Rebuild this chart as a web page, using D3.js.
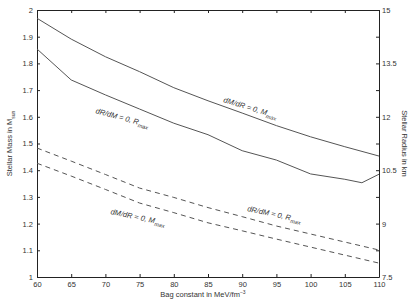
<!DOCTYPE html>
<html>
<head>
<meta charset="utf-8">
<script src="https://cdn.jsdelivr.net/npm/d3@7"></script>
<style>
  body { margin: 0; background: #fff; }
  text { font-family: "Liberation Sans", Arial, sans-serif; fill: #333; }
</style>
</head>
<body>
<svg id="chart" width="415" height="302"></svg>
<script>
// bag constant (MeV/fm^-3)
const bag = [60, 65, 70, 75, 80, 85, 90, 95, 100, 105, 110];
// solid: dM/dR = 0, M_max
const massMaxSolid = [1.969, 1.891, 1.825, 1.769, 1.709, 1.660, 1.614, 1.567, 1.525, 1.488, 1.453];
// solid: dR/dM = 0, R_max
const bagRmax = [60, 65, 70, 75, 80, 85, 90, 95, 100, 105, 107.5, 110];
const radMaxSolid = [1.854, 1.738, 1.682, 1.629, 1.576, 1.533, 1.473, 1.438, 1.386, 1.366, 1.353, 1.385];
// dashed: dR/dM = 0, R_max
const radMaxDashed = [1.483, 1.434, 1.384, 1.333, 1.298, 1.260, 1.226, 1.191, 1.161, 1.131, 1.101];
// dashed: dM/dR = 0, M_max
const massMaxDashed = [1.426, 1.378, 1.328, 1.277, 1.241, 1.203, 1.173, 1.142, 1.112, 1.082, 1.052];

const xTicks = [60, 65, 70, 75, 80, 85, 90, 95, 100, 105, 110];
const yTicks = [1, 1.1, 1.2, 1.3, 1.4, 1.5, 1.6, 1.7, 1.8, 1.9, 2];
const y2Ticks = [7.5, 8.25, 9, 9.75, 10.5, 11.25, 12, 12.75, 13.5, 14.25, 15];
const y2Labels = [7.5, 9, 10.5, 12, 13.5, 15];

// curve labels: [bag, mass, angle, main, sub]
const labels = [
  [87.2, 1.655, 17, "dM/dR = 0, M", "max"],
  [68.5, 1.614, 15, "dR/dM = 0, R", "max"],
  [70.7, 1.236, 12, "dM/dR = 0, M", "max"],
  [90.7, 1.247, 12, "dR/dM = 0, R", "max"]
];

const svg = d3.select("#chart");
const margin = { left: 37, right: 36, top: 10, bottom: 25 };
const W = 415, H = 302;
const fs = 7.5;

const x = d3.scaleLinear().domain([60, 110]).range([margin.left, W - margin.right]);
const y = d3.scaleLinear().domain([1, 2]).range([H - margin.bottom, margin.top]);
const y2 = d3.scaleLinear().domain([7.5, 15]).range([H - margin.bottom, margin.top]);

const fmt = (d) => d3.format("")(d);

// axes, ticks pointing inward
function styleAxis(g) {
  g.select(".domain").attr("stroke", "#222");
  g.selectAll(".tick line").attr("stroke", "#222");
  g.selectAll(".tick text").attr("font-size", fs).attr("fill", "#333")
    .attr("font-family", "Liberation Sans, Arial, sans-serif");
}

svg.append("g")
  .attr("transform", `translate(0,${y.range()[0]})`)
  .call(d3.axisBottom(x).tickValues(xTicks).tickSizeInner(-3).tickSizeOuter(0).tickPadding(5).tickFormat(fmt))
  .call(styleAxis);

svg.append("g")
  .attr("transform", `translate(0,${y.range()[1]})`)
  .call(d3.axisTop(x).tickValues(xTicks).tickSizeInner(-3).tickSizeOuter(0).tickFormat(""))
  .call(styleAxis);

svg.append("g")
  .attr("transform", `translate(${x.range()[0]},0)`)
  .call(d3.axisLeft(y).tickValues(yTicks).tickSizeInner(-3).tickSizeOuter(0).tickPadding(4).tickFormat(fmt))
  .call(styleAxis);

svg.append("g")
  .attr("transform", `translate(${x.range()[1]},0)`)
  .call(d3.axisRight(y2).tickValues(y2Ticks).tickSizeInner(-3).tickSizeOuter(0).tickPadding(3)
    .tickFormat((d) => y2Labels.includes(d) ? fmt(d) : ""))
  .call(styleAxis);

// curves
const line = (xs, ys) => d3.line().x((d, i) => x(xs[i])).y((d) => y(d))(ys);

svg.append("path").attr("d", line(bag, massMaxSolid))
  .attr("fill", "none").attr("stroke", "#555").attr("stroke-width", 1);
svg.append("path").attr("d", line(bagRmax, radMaxSolid))
  .attr("fill", "none").attr("stroke", "#555").attr("stroke-width", 1);
svg.append("path").attr("d", line(bag, radMaxDashed))
  .attr("fill", "none").attr("stroke", "#555").attr("stroke-width", 1).attr("stroke-dasharray", "5,4");
svg.append("path").attr("d", line(bag, massMaxDashed))
  .attr("fill", "none").attr("stroke", "#555").attr("stroke-width", 1).attr("stroke-dasharray", "5,4");

// curve labels
labels.forEach(([b, m, a, main, sub]) => {
  const t = svg.append("text")
    .attr("transform", `translate(${x(b)},${y(m)}) rotate(${a})`)
    .attr("font-size", fs).attr("font-style", "italic");
  t.append("tspan").text(main);
  t.append("tspan").attr("dy", 2.5).attr("font-size", 5.5).text(sub);
});

// axis titles
const lt = svg.append("text")
  .attr("transform", `translate(12,${(y.range()[0] + y.range()[1]) / 2}) rotate(-90)`)
  .attr("text-anchor", "middle").attr("font-size", fs);
lt.append("tspan").text("Stellar Mass in M");
lt.append("tspan").attr("dy", 2.5).attr("font-size", 5).text("sun");

svg.append("text")
  .attr("transform", `translate(402,${(y.range()[0] + y.range()[1]) / 2}) rotate(90)`)
  .attr("text-anchor", "middle").attr("font-size", fs)
  .text("Stellar Radius in km");

const bt = svg.append("text")
  .attr("x", 203).attr("y", 297)
  .attr("text-anchor", "middle").attr("font-size", fs);
bt.append("tspan").text("Bag constant in MeV/fm");
bt.append("tspan").attr("dy", -3.5).attr("font-size", 5).text("−3");
</script>
</body>
</html>
